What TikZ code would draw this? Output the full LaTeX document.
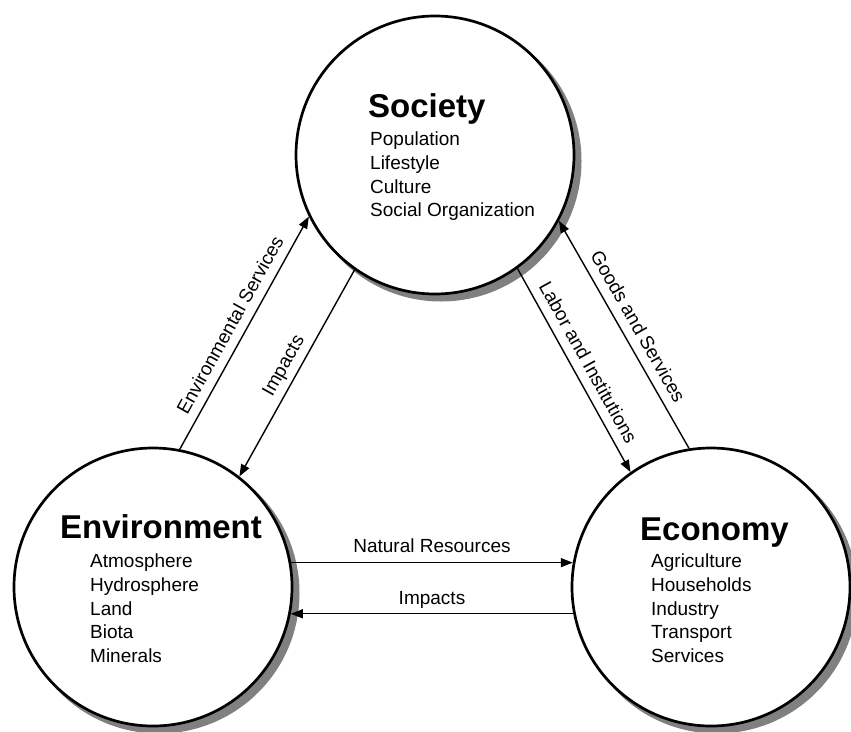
\documentclass[tikz,border=0pt]{standalone}
\usepackage{fontspec}
\setmainfont{Liberation Sans}
\usepackage{tikz}
\usetikzlibrary{arrows.meta}
\definecolor{shadowgray}{RGB}{128,128,128}

\begin{document}
\begin{tikzpicture}[x=1pt, y=-1pt,
    sphere/.style={circle, draw, line width=2.7pt, fill=white, minimum size=278pt, inner sep=0pt},
    heading/.style={font=\fontsize{33}{36}\selectfont\bfseries, inner sep=0pt, anchor=base west},
    items/.style={font=\fontsize{19}{23.6}\selectfont, align=left, inner sep=0pt, anchor=north west},
    flow/.style={line width=1.4pt, -{Triangle[length=12pt, width=9pt]}},
    flowlabel/.style={font=\fontsize{19}{22}\selectfont, inner sep=5pt, text height=14pt, text depth=4pt}]

        \useasboundingbox (0,0) rectangle (851,731);

        % Grey shadows, offset down and to the right
        \fill[shadowgray] (441,161) circle (140.5);
        \fill[shadowgray] (159,593) circle (140.5);
        \fill[shadowgray] (717,593) circle (140.5);

        % Define the three spheres
        \node[sphere] (soc) at (435,155) {};
        \node[sphere] (env) at (153,587) {};
        \node[sphere] (eco) at (711,587) {};

        % Names and contents of the spheres
        \node[heading] (socname) at (368,117) {Society};
        \node[items] (soclist) at (370,132) {Population\\Lifestyle\\Culture\\Social Organization};
        \node[heading] (envname) at (60,538) {Environment};
        \node[items] (envlist) at (90,554) {Atmosphere\\Hydrosphere\\Land\\Biota\\Minerals};
        \node[heading] (econame) at (640,540) {Economy};
        \node[items] (ecolist) at (651,554) {Agriculture\\Households\\Industry\\Transport\\Services};

        % Flows between the spheres
        \draw[flow] (env.79) -- (soc.206) node[flowlabel, midway, above, sloped] {Environmental Services};
        \draw[flow] (soc.235) -- (env.52) node[flowlabel, midway, above, sloped] {Impacts};
        \draw[flow] (soc.306) -- (eco.125) node[flowlabel, midway, above, sloped] {Labor and Institutions};
        \draw[flow] (eco.99) -- (soc.332) node[flowlabel, midway, above, sloped] {Goods and Services};
        \draw[flow] (env.10) -- (eco.170) node[flowlabel, midway, above] {Natural Resources};
        \draw[flow] (eco.191) -- (env.349) node[flowlabel, midway, above] {Impacts}; % back to environment
        \end{tikzpicture}
\end{document}
